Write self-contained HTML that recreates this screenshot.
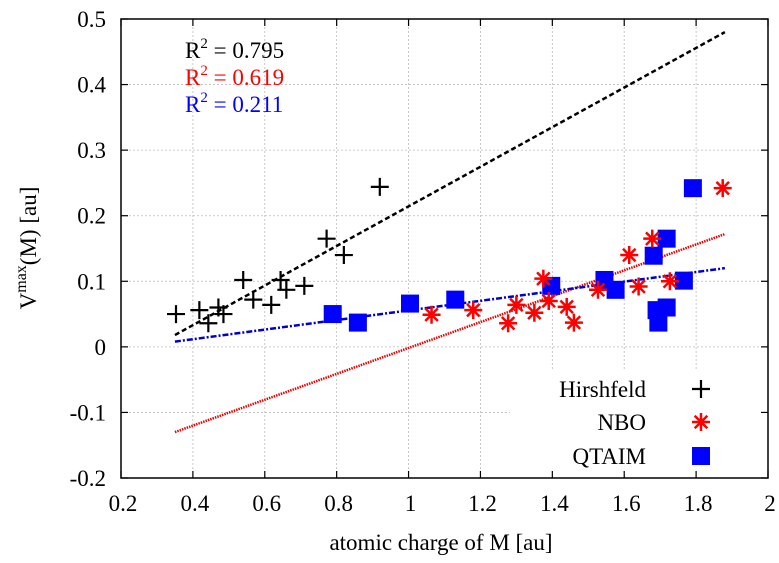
<!DOCTYPE html>
<html><head><meta charset="utf-8"><style>
html,body{margin:0;padding:0;background:#fff;}
svg{display:block;font-family:"Liberation Serif",serif;}
</style></head><body>
<svg id="chart" width="779" height="563" viewBox="0 0 779 563" xmlns="http://www.w3.org/2000/svg"></svg>
<script>
const xTicks=[0.2,0.4,0.6,0.8,1,1.2,1.4,1.6,1.8,2];
const yTicks=[-0.2,-0.1,0,0.1,0.2,0.3,0.4,0.5];
const hirX=[0.353,0.418,0.443,0.471,0.485,0.54,0.568,0.618,0.644,0.66,0.71,0.772,0.82,0.92];
const hirY=[0.05,0.056,0.036,0.06,0.05,0.102,0.072,0.064,0.102,0.087,0.093,0.165,0.14,0.244];
const nboX=[1.064,1.18,1.277,1.30,1.35,1.375,1.39,1.44,1.46,1.527,1.614,1.64,1.678,1.727,1.874];
const nboY=[0.049,0.056,0.036,0.064,0.052,0.104,0.07,0.061,0.037,0.087,0.14,0.092,0.165,0.1,0.242];
const qtX=[0.789,0.859,1.004,1.13,1.397,1.545,1.576,1.682,1.69,1.695,1.718,1.718,1.766,1.791];
const qtY=[0.05,0.037,0.066,0.072,0.093,0.102,0.087,0.139,0.056,0.037,0.06,0.165,0.101,0.242];
const fitX=[0.35,1.88];
const fitHir=[0.018,0.48];
const fitNbo=[-0.13,0.172];
const fitQt=[0.008,0.12];

const L=121,R=768,T=19,B=478;
const sx=v=>L+(v-0.2)/1.8*(R-L);
const sy=v=>B-(v+0.2)/0.7*(B-T);
const svg=document.getElementById('chart');
const NS='http://www.w3.org/2000/svg';
function mk(tag,attrs,parent){const e=document.createElementNS(NS,tag);for(const k in attrs)e.setAttribute(k,attrs[k]);(parent||svg).appendChild(e);return e;}

xTicks.forEach((t,i)=>{
  if(i>0&&i<xTicks.length-1){
    const g=mk('line',{x1:sx(t),x2:sx(t),y1:T,y2:B,stroke:'#bbb','stroke-width':0.8,'stroke-dasharray':'2,2'});
    
    
  }
  const tk=mk('line',{x1:sx(t),x2:sx(t),y1:B,y2:B-7,stroke:'#000','stroke-width':1.2});
  
  
  const tk2=mk('line',{x1:sx(t),x2:sx(t),y1:T,y2:T+7,stroke:'#000','stroke-width':1.2});
  
  
  const lb=mk('text',{x:sx(t)+2,y:511,'text-anchor':'middle','font-size':23});
  lb.textContent=String(t);
  
  
});
yTicks.forEach((t,i)=>{
  if(i>0&&i<yTicks.length-1){
    const g=mk('line',{x1:L,x2:R,y1:sy(t),y2:sy(t),stroke:'#bbb','stroke-width':0.8,'stroke-dasharray':'2,2'});
    
    
  }
  const tk=mk('line',{x1:L,x2:L+7,y1:sy(t),y2:sy(t),stroke:'#000','stroke-width':1.2});
  
  
  const tk2=mk('line',{x1:R,x2:R-7,y1:sy(t),y2:sy(t),stroke:'#000','stroke-width':1.2});
  
  
  const lb=mk('text',{x:106,y:sy(t)+8,'text-anchor':'end','font-size':23});
  lb.textContent=String(t);
  
  
});
const lbg=mk('rect',{x:510,y:370,width:250,height:100,fill:'#fff'});



const frame=mk('rect',{x:L,y:T,width:R-L,height:B-T,fill:'none',stroke:'#000','stroke-width':1.5});



function fit(ys,color,dash,name){
  const l=mk('line',{x1:sx(fitX[0]),y1:sy(ys[0]),x2:sx(fitX[1]),y2:sy(ys[1]),stroke:color,'stroke-width':2.5,'stroke-dasharray':dash});
  
  
}
fit(fitHir,'#000','5,3','hirshfeld-fit-line');
fit(fitNbo,'#e00','1.5,1','nbo-fit-line');
fit(fitQt,'#00c','6,2,2,2','qtaim-fit-line');

function plus(x,y,parent){return mk('path',{d:`M${x-9},${y}H${x+9}M${x},${y-9}V${y+9}`,stroke:'#000','stroke-width':2.2,fill:'none'},parent);}
function star(x,y,parent){const r=9,a=r*0.7;return mk('path',{d:`M${x-r},${y}H${x+r}M${x},${y-r}V${y+r}M${x-a},${y-a}L${x+a},${y+a}M${x-a},${y+a}L${x+a},${y-a}`,stroke:'#f00','stroke-width':2.5,fill:'none'},parent);}
function sq(x,y,parent){return mk('rect',{x:x-9,y:y-9,width:18,height:18,fill:'#00f'},parent);}

qtX.forEach((v,i)=>{const e=sq(sx(v),sy(qtY[i]));

});
nboX.forEach((v,i)=>{const e=star(sx(v),sy(nboY[i]));

});
hirX.forEach((v,i)=>{const e=plus(sx(v),sy(hirY[i]));

});

const legend=[['Hirshfeld',plus,389],['NBO',star,422],['QTAIM',sq,456]];
legend.forEach(([n,f,y])=>{
  const t=mk('text',{x:646,y:y+8,'text-anchor':'end','font-size':23});
  t.textContent=n;
  
  
  const m=f(701,y);
  
  
});
</script>
<svg style="position:absolute;left:0;top:0" width="779" height="563">
<text x="185" y="58" font-size="23" font-family="Liberation Serif,serif" fill="#000">R<tspan dy="-10" font-size="15">2</tspan><tspan dy="10"> = 0.795</tspan></text>
<text x="185" y="85" font-size="23" font-family="Liberation Serif,serif" fill="#f00">R<tspan dy="-10" font-size="15">2</tspan><tspan dy="10"> = 0.619</tspan></text>
<text x="185" y="112" font-size="23" font-family="Liberation Serif,serif" fill="#00f">R<tspan dy="-10" font-size="15">2</tspan><tspan dy="10"> = 0.211</tspan></text>
<text x="441" y="550" text-anchor="middle" font-size="23" font-family="Liberation Serif,serif">atomic charge of M [au]</text>
<text transform="translate(36,248) rotate(-90)" text-anchor="middle" font-size="23" font-family="Liberation Serif,serif">V<tspan dy="-10" font-size="16">max</tspan><tspan dy="10">(M) [au]</tspan></text>
</svg>
</body></html>
